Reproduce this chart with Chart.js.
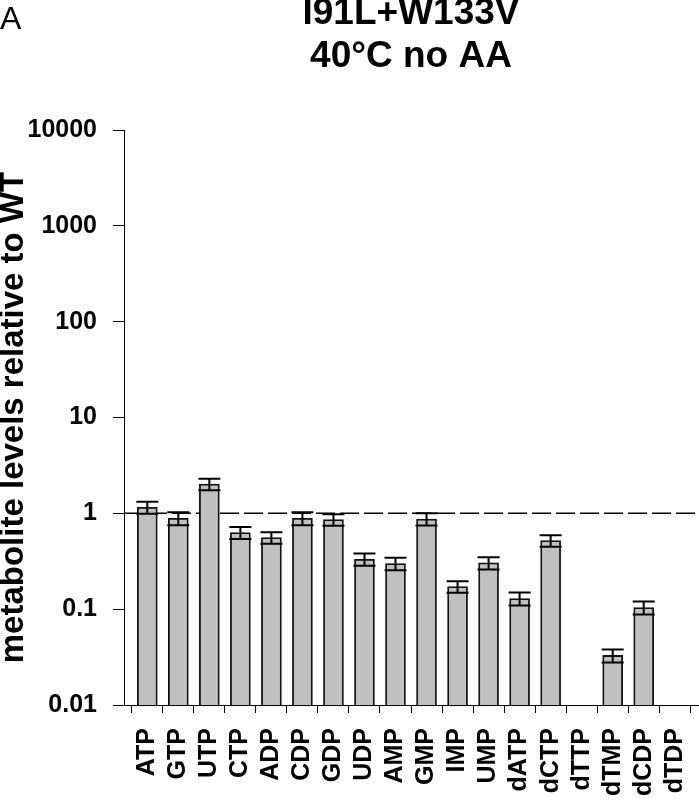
<!DOCTYPE html>
<html>
<head>
<meta charset="utf-8">
<script src="https://cdn.jsdelivr.net/npm/chart.js@4.4.1/dist/chart.umd.min.js"></script>
<style>
  html, body { margin: 0; padding: 0; background: #fff; }
</style>
</head>
<body>
<canvas id="myChart" width="699" height="800"></canvas>
<script>
'use strict';

const names = ['ATP', 'GTP', 'UTP', 'CTP', 'ADP', 'CDP', 'GDP', 'UDP', 'AMP', 'GMP',
  'IMP', 'UMP', 'dATP', 'dCTP', 'dTTP', 'dTMP', 'dCDP', 'dTDP'];
const levels = [1.155, 0.887, 2.02, 0.63, 0.558, 0.887, 0.86, 0.332, 0.299, 0.873,
  0.172, 0.304, 0.129, 0.519, null, 0.0329, 0.104, null];
const errors = [0.165, 0.137, 0.28, 0.09, 0.076, 0.137, 0.116, 0.048, 0.044, 0.127,
  0.024, 0.044, 0.02, 0.071, null, 0.0051, 0.016, null];
const yTicks = [0.01, 0.1, 1, 10, 100, 1000, 10000];
const titleLines = ['I91L+W133V', '40°C no AA'];
const panelLetter = 'A';
const yTitle = 'metabolite levels relative to WT';
const refLevel = 1;

const FONT = '"Liberation Sans", Arial, sans-serif';

// dashed line at 1 (= WT level)
const refLine = {
  id: 'refLine',
  beforeDatasetsDraw( chart ) {
    const ctx = chart.ctx;
    const area = chart.chartArea;
    const y = chart.scales.y.getPixelForValue( refLevel );
    ctx.save();
    ctx.strokeStyle = '#000';
    ctx.lineWidth = 1.5;
    ctx.setLineDash( [19, 5] );
    ctx.beginPath();
    ctx.moveTo( area.left, y );
    ctx.lineTo( area.right, y );
    ctx.stroke();
    ctx.restore();
  }
};

const errorBars = {
  id: 'errorBars',
  afterDatasetsDraw( chart ) {
    const ctx = chart.ctx;
    const yScale = chart.scales.y;
    const meta = chart.getDatasetMeta( 0 );
    ctx.save();
    ctx.strokeStyle = '#000';
    ctx.lineWidth = 2;
    meta.data.forEach( ( bar, i ) => {
      if ( levels[i] === null ) {
        return;
      }
      const hi = yScale.getPixelForValue( levels[i] + errors[i] );
      const lo = yScale.getPixelForValue( levels[i] - errors[i] );
      const half = 11;
      ctx.beginPath();
      ctx.moveTo( bar.x, hi );
      ctx.lineTo( bar.x, lo );
      ctx.moveTo( bar.x - half, hi );
      ctx.lineTo( bar.x + half, hi );
      ctx.moveTo( bar.x - half, lo );
      ctx.lineTo( bar.x + half, lo );
      ctx.stroke();
    } );
    ctx.restore();
  }
};

const headings = {
  id: 'headings',
  afterDraw( chart ) {
    const ctx = chart.ctx;
    const area = chart.chartArea;
    ctx.save();
    ctx.fillStyle = '#000';
    ctx.textBaseline = 'middle';
    ctx.font = '32px ' + FONT;
    ctx.textAlign = 'left';
    ctx.fillText( panelLetter, 0, 20 );
    ctx.font = 'bold 37px ' + FONT;
    ctx.textAlign = 'center';
    const cx = ( area.left + area.right ) / 2;
    ctx.fillText( titleLines[0], cx, 14 );
    ctx.fillText( titleLines[1], cx, 57 );
    ctx.restore();
  }
};

let ctx = document.getElementById( 'myChart' ).getContext( '2d' );
let myChart = new Chart( ctx, {
  type: 'bar',
  data: {
    datasets: [{
      data: names.map( ( n, i ) => ( { x: i, y: levels[i] } ) ),
      backgroundColor: '#c0c0c0',
      borderColor: '#111',
      borderWidth: 1.8,
      barThickness: 20
    }]
  },
  options: {
    responsive: false,
    animation: false,
    layout: { padding: { top: 130, right: 1, left: 0, bottom: 0 } },
    plugins: {
      legend: { display: false },
      tooltip: { enabled: false }
    },
    scales: {
      x: {
        type: 'linear',
        offset: false,
        min: -0.751,
        max: 17.75,
        afterBuildTicks( scale ) {
          scale.ticks = names.map( ( n, i ) => ( { value: i } ) );
        },
        afterFit( scale ) {
          scale.height = 95;
          scale.paddingLeft = 0;
          scale.paddingRight = 0;
        },
        grid: {
          drawOnChartArea: false,
          drawTicks: true,
          tickLength: 8,
          color: '#000'
        },
        border: { display: true, color: '#000', width: 1 },
        ticks: {
          autoSkip: false,
          minRotation: 90,
          maxRotation: 90,
          padding: 15,
          color: '#000',
          font: { family: FONT, size: 25, weight: 'bold' },
          callback( value ) {
            return names[value];
          }
        }
      },
      y: {
        type: 'logarithmic',
        min: 0.01,
        max: 10000,
        afterBuildTicks( scale ) {
          scale.ticks = yTicks.map( v => ( { value: v } ) );
        },
        afterFit( scale ) {
          scale.width = 124;
        },
        grid: {
          drawOnChartArea: false,
          drawTicks: true,
          tickLength: 11,
          color: '#000'
        },
        border: { display: true, color: '#000', width: 1 },
        ticks: {
          padding: 16,
          color: '#000',
          font: { family: FONT, size: 25, weight: 'bold' },
          callback( value ) {
            return String( value );
          }
        },
        title: {
          display: true,
          text: yTitle,
          color: '#000',
          padding: { top: -3, bottom: 0 },
          font: { family: FONT, size: 33, weight: 'bold', lineHeight: 1 }
        }
      }
    }
  },
  plugins: [refLine, errorBars, headings]
} );
</script>
</body>
</html>
